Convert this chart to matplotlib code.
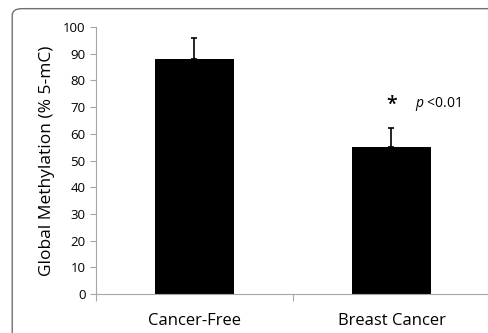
import matplotlib
matplotlib.use("Agg")
import matplotlib.pyplot as plt
from matplotlib.patches import FancyBboxPatch

groups = ["Cancer-Free", "Breast Cancer"]
means = [88, 55]
errors = [8, 7.3]
sig_star = "*"
sig_text = "$p$ <0.01"

plt.rcParams["font.family"] = ["Open Sans", "DejaVu Sans"]
plt.rcParams["mathtext.fontset"] = "custom"
plt.rcParams["mathtext.it"] = "Open Sans:italic"
GRAY = "#a6a6a6"

fig = plt.figure(figsize=(4.89, 3.33), dpi=100)
fig.patches.append(FancyBboxPatch((0.025, -0.05), 1.0, 1.024,
                                  boxstyle="round,pad=0,rounding_size=0.02",
                                  transform=fig.transFigure, fill=False,
                                  edgecolor="#707070", lw=1.0))

ax = fig.add_axes([0.196, 0.117, 0.806, 0.802])
x = range(len(groups))
ax.bar(x, means, width=0.4, color="black",
       yerr=[[0] * len(errors), errors],
       error_kw=dict(ecolor="black", lw=1.2, capsize=2.5, capthick=1.2))

ax.set_xlim(-0.5, 1.5)
ax.set_ylim(0, 100)
ax.set_yticks(range(0, 101, 10))
ax.set_xticks([-0.5, 0.5, 1.5])
ax.set_xticklabels([])
ax.set_xticks(list(x), minor=True)
ax.set_xticklabels(groups, minor=True, fontsize=12)
ax.tick_params(axis="x", which="minor", length=0, pad=14)
ax.tick_params(axis="x", which="major", length=5, color=GRAY, direction="out")
ax.tick_params(axis="y", length=4, color=GRAY, labelsize=9.5, direction="out")
for s in ("top", "right"):
    ax.spines[s].set_visible(False)
for s in ("left", "bottom"):
    ax.spines[s].set_color(GRAY)
ax.set_ylabel("Global Methylation (% 5-mC)", fontsize=12.5, labelpad=6)

ax.text(1, 71, sig_star, ha="center", va="center", fontsize=14, fontweight="semibold")
ax.text(1.12, 71, sig_text, ha="left", va="center", fontsize=10)

fig.savefig("out.png", dpi=100)
